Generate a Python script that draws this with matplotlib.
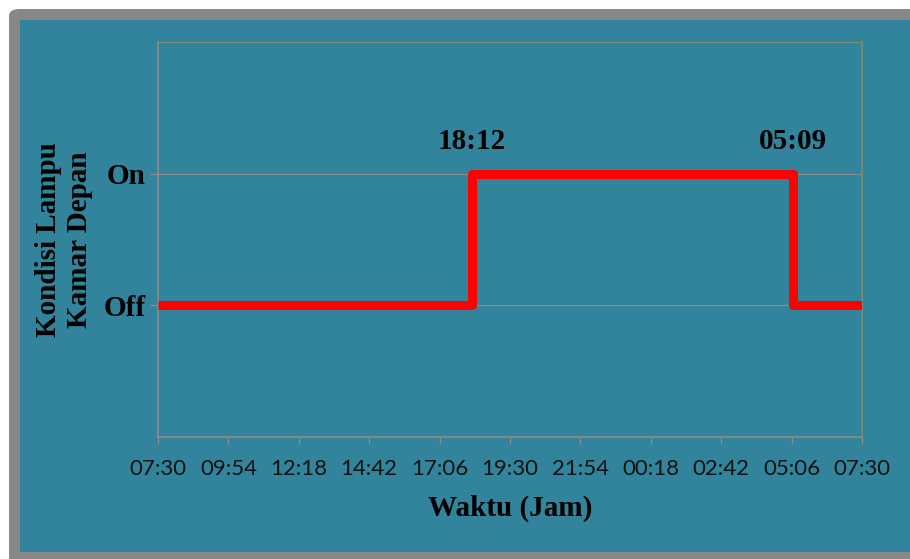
import matplotlib.pyplot as plt
from matplotlib.patches import FancyBboxPatch, Rectangle

# Kondisi lampu kamar depan selama satu hari (mulai 07:30)
waktu = ["07:30", "18:12", "05:09", "07:30"]
kondisi = [1, 2, 1, 1]          # 1 = Off, 2 = On
label_waktu = ["18:12", "05:09"]
xtick_labels = ["07:30", "09:54", "12:18", "14:42", "17:06", "19:30",
                "21:54", "00:18", "02:42", "05:06", "07:30"]
ytick_labels = ["Off", "On"]


def ke_menit(jam, mulai="07:30"):
    h, m = map(int, jam.split(":"))
    h0, m0 = map(int, mulai.split(":"))
    return (h * 60 + m - (h0 * 60 + m0)) % 1440


x = [ke_menit(t) for t in waktu]
x[-1] = 1440

bg = "#31849B"
serif = "Liberation Serif"

fig = plt.figure(figsize=(9.1, 5.59), dpi=100)
fig.patch.set_facecolor("white")

# bingkai abu-abu dan latar biru
fig.patches.append(FancyBboxPatch((9 / 910, -0.05), 1.2, 1.05 + (1 - 9 / 559) - 1,
                                  boxstyle="round,pad=0,rounding_size=0.012",
                                  transform=fig.transFigure, facecolor="#878787",
                                  edgecolor="none", zorder=-2))
fig.patches.append(Rectangle((20 / 910, 7 / 559), 1.0, 1 - 27 / 559,
                             transform=fig.transFigure, facecolor=bg,
                             edgecolor="none", zorder=-1))

ax = fig.add_axes([158 / 910, 1 - 437 / 559, 704 / 910, 395 / 559])
ax.set_facecolor(bg)
ax.patch.set_alpha(0)

ax.plot(x, kondisi, drawstyle="steps-post", color="#FF0000", linewidth=6.5,
        solid_joinstyle="round", solid_capstyle="butt", zorder=3)

ax.set_xlim(0, 1440)
ax.set_ylim(0, 3)
ax.set_xticks(range(0, 1441, 144))
ax.set_xticklabels(xtick_labels, fontfamily="Lato", fontsize=16, color="#111111")
ax.set_yticks([1, 2])
ax.set_yticklabels(ytick_labels, fontfamily=serif, fontweight="bold", fontsize=21)

for y in [1, 2, 3]:
    ax.axhline(y, color="#8c8c8c", linewidth=0.9, zorder=1)

for side in ["left", "bottom"]:
    ax.spines[side].set_color("#8c8c8c")
    ax.spines[side].set_linewidth(1.2)
ax.spines["top"].set_visible(False)
ax.spines["right"].set_color("#7f8c70")
ax.spines["right"].set_linewidth(1.2)
ax.axhline(3, color="#7f8c70", linewidth=1.2, zorder=1)

ax.tick_params(axis="x", length=5, width=1, color="#8c8c8c", pad=11)
ax.tick_params(axis="y", length=6, width=1, color="#8c8c8c", pad=3)

for t in label_waktu:
    ax.annotate(t, xy=(ke_menit(t), 2), xytext=(0, 23), textcoords="offset points",
                ha="center", va="center", fontfamily=serif, fontweight="bold",
                fontsize=21, color="black")

fig.text(510 / 910, 1 - 508 / 559, "Waktu (Jam)", ha="center", va="center",
         fontfamily=serif, fontweight="bold", fontsize=21)
fig.text(64 / 910, 1 - 240 / 559, "Kondisi Lampu\nKamar Depan", ha="center",
         va="center", rotation=90, fontfamily=serif, fontweight="bold",
         fontsize=21, linespacing=1.2)

fig.savefig("out.png", dpi=100)
